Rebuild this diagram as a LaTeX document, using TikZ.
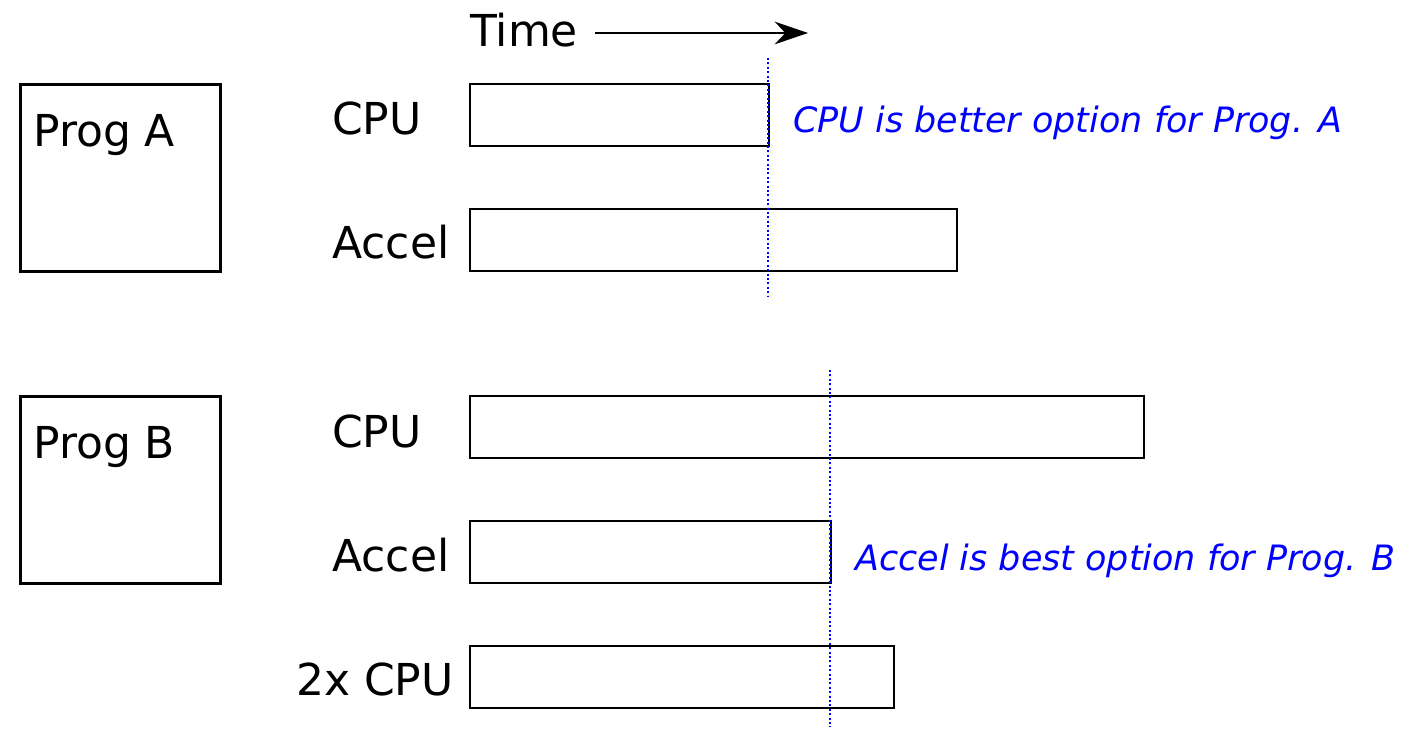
\documentclass[tikz,border=0pt]{standalone}
\usepackage{fontspec}
\setmainfont{DejaVu Sans}
\usetikzlibrary{arrows.meta}
\tikzset{
  px/.style={x=0.75pt,y=-0.75pt},
  progbox/.style={draw,line width=2.4pt,minimum width=150pt,minimum height=140.25pt,inner sep=0pt,anchor=north west},
  bar/.style={draw,line width=1.2pt,minimum height=46.5pt,inner sep=0pt,anchor=north west},
  lbl/.style={font=\fontsize{33}{36}\selectfont,inner sep=0pt,anchor=base west},
  note/.style={font=\fontsize{26.2}{29}\selectfont\itshape,text=blue,inner sep=0pt,anchor=base west},
  marker/.style={blue,line width=1.4pt,dash pattern=on 1.5pt off 1.8pt}
}
\begin{document}
\begin{tikzpicture}[px]
\useasboundingbox (0,0) rectangle (1402,730);

% time axis
\node[lbl] (time) at (470,47) {Time};
\coordinate (t0) at (595,33);
\coordinate (t1) at (808,33);
\draw[line width=1.2pt,-{Stealth[length=25pt,width=17pt,inset=8pt]}] (t0) -- (t1);

% program A
\node[progbox] (progA) at (18.5,83) {};
\node[lbl] (progAt) at (33,147) {Prog A};
\node[lbl] (cpuAl) at (332,135) {CPU};
\node[lbl] (accAl) at (332,259) {Accel};
\node[bar,minimum width=224.25pt] (cpuA) at (469,83) {};
\node[bar,minimum width=365.25pt] (accA) at (469,208) {};
\coordinate (mA0) at (768,58);
\coordinate (mA1) at (768,296);
\draw[marker] (mA0) -- (mA1);
\node[note] (noteA) at (793,133) {CPU is better option for Prog. A};

% program B
\node[progbox] (progB) at (18.5,395) {};
\node[lbl] (progBt) at (33,459) {Prog B};
\node[lbl] (cpuBl) at (332,447) {CPU};
\node[lbl] (accBl) at (332,571) {Accel};
\node[lbl] (dcpuBl) at (296,695) {2x CPU};
\node[bar,minimum width=505.5pt] (cpuB) at (469,395) {};
\node[bar,minimum width=270.75pt] (accB) at (469,520) {};
\node[bar,minimum width=318pt] (dcpuB) at (469,645) {};
\coordinate (mB0) at (830,370);
\coordinate (mB1) at (830,727);
\draw[marker] (mB0) -- (mB1);
\node[note] (noteB) at (855,570) {Accel is best option for Prog. B};
\end{tikzpicture}
\end{document}
